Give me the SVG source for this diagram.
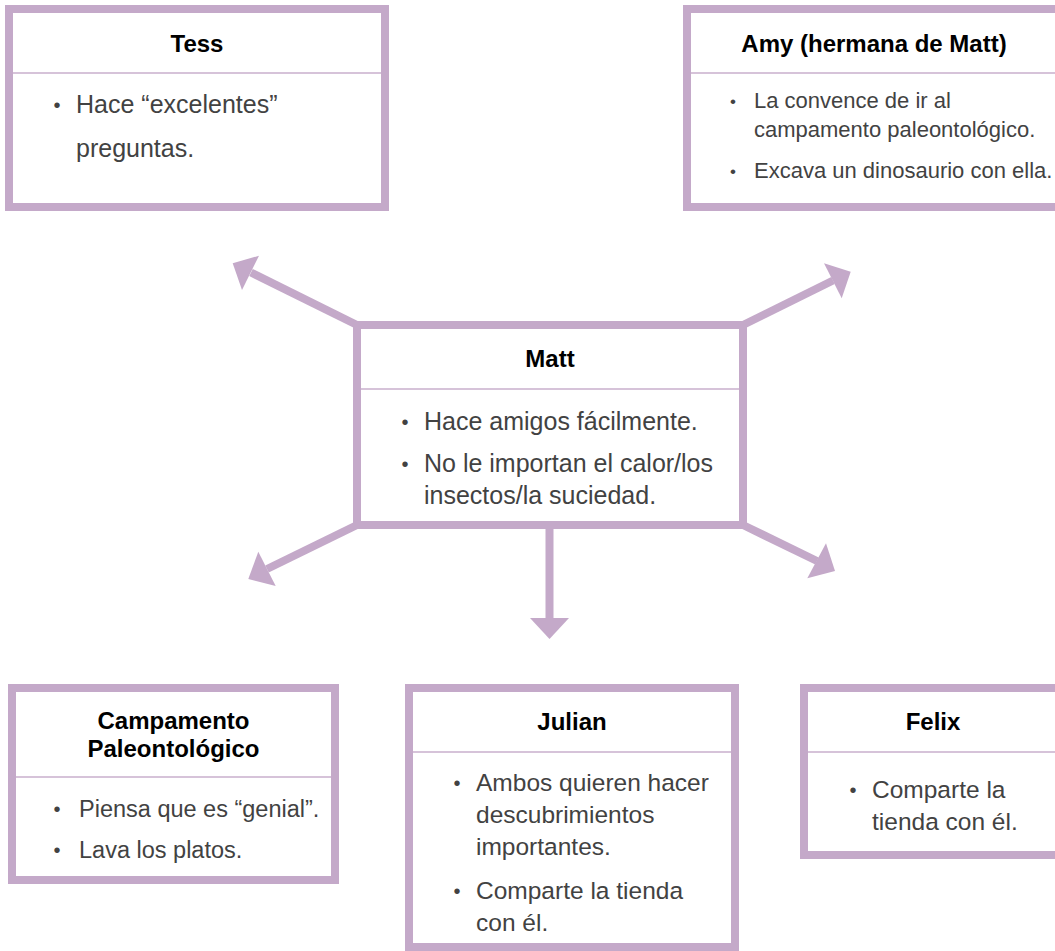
<svg xmlns="http://www.w3.org/2000/svg" width="1055" height="951" viewBox="0 0 1055 951">
  <style>
    .box { fill: #ffffff; stroke: #c4a9c9; stroke-width: 8; }
    .rule { stroke: #d6c3d9; stroke-width: 2; }
    .title { font-family: "Liberation Sans", Arial, sans-serif; font-weight: bold; font-size: 24px; fill: #000000; text-anchor: middle; }
    .body { font-family: "Liberation Sans", Arial, sans-serif; font-size: 24.5px; fill: #424242; }
    .dot { font-family: "Liberation Sans", Arial, sans-serif; font-size: 20px; fill: #424242; text-anchor: middle; }
    .shaft { stroke: #c4a9c9; stroke-width: 8; fill: none; }
    .head { fill: #c4a9c9; }
  </style>

  <!-- connectors from the central card -->
  <g id="connectors">
    <line class="shaft" x1="357" y1="325" x2="251" y2="272.5"/>
    <polygon class="head" points="232.7,263.3 259,255.7 242,290"/>
    <line class="shaft" x1="743" y1="325" x2="833" y2="280.5"/>
    <polygon class="head" points="850.7,271.7 824,263.3 841.7,298.3"/>
    <line class="shaft" x1="357" y1="525" x2="267" y2="569"/>
    <polygon class="head" points="248.3,579 258.3,551.7 275.7,586"/>
    <line class="shaft" x1="743" y1="525" x2="817" y2="561"/>
    <polygon class="head" points="835,571 826,543.3 807.3,578.3"/>
    <line class="shaft" x1="549.5" y1="525" x2="549.5" y2="620"/>
    <polygon class="head" points="530,618 569,618 549.5,639"/>
  </g>

  <g id="tess">
    <rect class="box" x="9" y="9" width="376" height="198"/>
    <line class="rule" x1="13" y1="73" x2="381" y2="73"/>
    <text class="title" x="197" y="52">Tess</text>
    <text class="dot" x="57" y="112">•</text>
    <text class="body" x="76" y="113" style="font-size:25px">Hace “excelentes”</text>
    <text class="body" x="76" y="157" style="font-size:25px">preguntas.</text>
  </g>

  <g id="amy">
    <rect class="box" x="687" y="9" width="420" height="198"/>
    <line class="rule" x1="691" y1="73" x2="1055" y2="73"/>
    <text class="title" x="874" y="52">Amy (hermana de Matt)</text>
    <text class="dot" x="733" y="107" style="font-size:17px">•</text>
    <text class="body" x="754" y="108" style="font-size:22px">La convence de ir al</text>
    <text class="body" x="754" y="137" style="font-size:22px">campamento paleontológico.</text>
    <text class="dot" x="733" y="177" style="font-size:17px">•</text>
    <text class="body" x="754" y="178" style="font-size:22px">Excava un dinosaurio con ella.</text>
  </g>

  <g id="matt">
    <rect class="box" x="357" y="325" width="386" height="200"/>
    <line class="rule" x1="361" y1="389" x2="739" y2="389"/>
    <text class="title" x="550" y="367">Matt</text>
    <text class="dot" x="405" y="429">•</text>
    <text class="body" x="424" y="430" style="font-size:25px">Hace amigos fácilmente.</text>
    <text class="dot" x="405" y="471">•</text>
    <text class="body" x="424" y="472" style="font-size:25px">No le importan el calor/los</text>
    <text class="body" x="424" y="504" style="font-size:25px">insectos/la suciedad.</text>
  </g>

  <g id="campamento">
    <rect class="box" x="12" y="688" width="323" height="192"/>
    <line class="rule" x1="16" y1="777" x2="331" y2="777"/>
    <text class="title" x="173.5" y="729">Campamento</text>
    <text class="title" x="173.5" y="757">Paleontológico</text>
    <text class="dot" x="57" y="816">•</text>
    <text class="body" x="79" y="817" style="font-size:23.5px">Piensa que es “genial”.</text>
    <text class="dot" x="57" y="857">•</text>
    <text class="body" x="79" y="858" style="font-size:23.5px">Lava los platos.</text>
  </g>

  <g id="julian">
    <rect class="box" x="409" y="688" width="326" height="259"/>
    <line class="rule" x1="413" y1="752" x2="731" y2="752"/>
    <text class="title" x="572" y="730">Julian</text>
    <text class="dot" x="457" y="790">•</text>
    <text class="body" x="476" y="791">Ambos quieren hacer</text>
    <text class="body" x="476" y="823">descubrimientos</text>
    <text class="body" x="476" y="855">importantes.</text>
    <text class="dot" x="457" y="898">•</text>
    <text class="body" x="476" y="899">Comparte la tienda</text>
    <text class="body" x="476" y="931">con él.</text>
  </g>

  <g id="felix">
    <rect class="box" x="804" y="688" width="300" height="167"/>
    <line class="rule" x1="808" y1="752" x2="1055" y2="752"/>
    <text class="title" x="933" y="730">Felix</text>
    <text class="dot" x="853" y="797">•</text>
    <text class="body" x="872" y="798">Comparte la</text>
    <text class="body" x="872" y="830">tienda con él.</text>
  </g>
</svg>
